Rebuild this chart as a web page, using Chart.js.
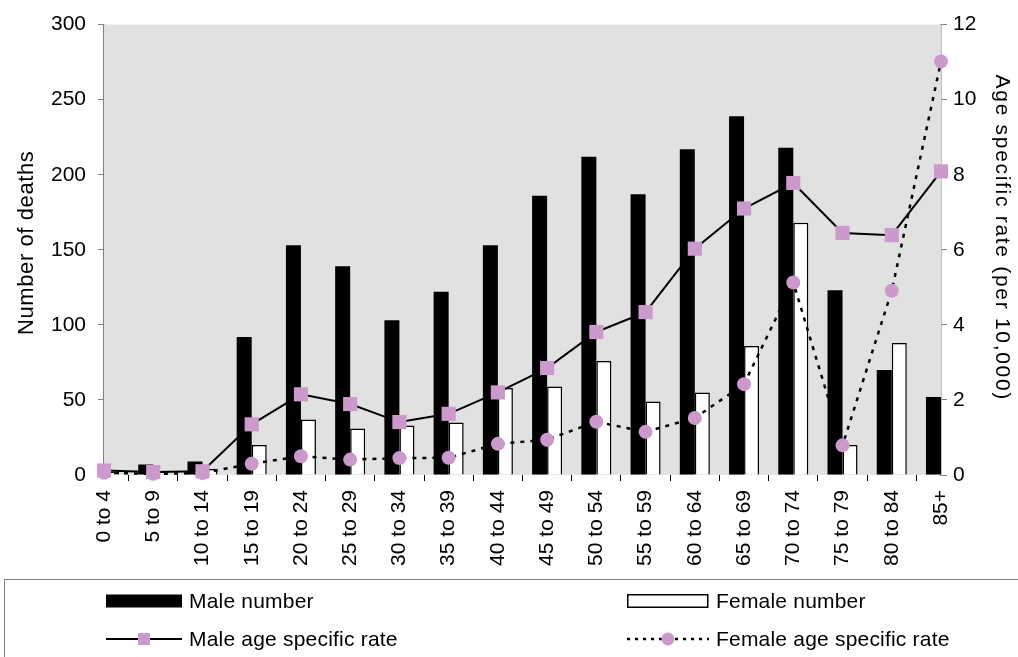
<!DOCTYPE html>
<html>
<head>
<meta charset="utf-8">
<script src="https://cdn.jsdelivr.net/npm/chart.js@4.4.1/dist/chart.umd.min.js"></script>
<style>
  html, body { margin: 0; padding: 0; background: #ffffff; overflow: hidden; }
  #wrap { position: relative; width: 1018px; height: 657px; }
  #chart { position: absolute; left: 0; top: 0; }
  #legend {
    position: absolute; left: 4px; top: 579px; width: 1100px; height: 200px;
    border: 1px solid #808080; box-sizing: border-box;
    font-family: "Liberation Sans", Arial, sans-serif;
    font-size: 21px; letter-spacing: 0.2px; color: #000;
  }
  .item { position: absolute; display: flex; align-items: center; height: 22px; white-space: nowrap; }
  .item svg { display: block; margin-right: 7px; }
</style>
</head>
<body>
<div id="wrap">
  <canvas id="chart" width="1018" height="657"></canvas>
  <div id="legend">
    <div class="item" style="left:101px; top:10px;">
      <svg width="76" height="16"><rect x="0" y="1.5" width="76" height="13" fill="#000"/></svg>
      <span>Male number</span>
    </div>
    <div class="item" style="left:622px; top:10px;">
      <svg width="82" height="16"><rect x="0.75" y="1.75" width="80" height="12.5" fill="#fff" stroke="#000" stroke-width="1.5"/></svg>
      <span>Female number</span>
    </div>
    <div class="item" style="left:101px; top:48px;">
      <svg width="76" height="16"><line x1="0" y1="8" x2="76" y2="8" stroke="#000" stroke-width="2"/><rect x="32" y="2" width="12" height="12" fill="#cc99cc"/></svg>
      <span>Male age specific rate</span>
    </div>
    <div class="item" style="left:622px; top:48px;">
      <svg width="82" height="16"><line x1="0" y1="8" x2="82" y2="8" stroke="#000" stroke-width="2.5" stroke-dasharray="3 5"/><circle cx="41" cy="8" r="6.5" fill="#cc99cc"/></svg>
      <span>Female age specific rate</span>
    </div>
  </div>
</div>
<script>
// Age groups
const categories = ['0 to 4', '5 to 9', '10 to 14', '15 to 19', '20 to 24', '25 to 29',
  '30 to 34', '35 to 39', '40 to 44', '45 to 49', '50 to 54', '55 to 59',
  '60 to 64', '65 to 69', '70 to 74', '75 to 79', '80 to 84', '85+'];

// Number of deaths
const maleNumber   = [4, 7, 9, 92, 153, 139, 103, 122, 153, 186, 212, 187, 217, 239, 218, 123, 70, 52];
const femaleNumber = [2, 2, 4, 20, 37, 31, 33, 35, 58, 59, 76, 49, 55, 86, 168, 20, 88, 0];

// Age specific rate (per 10,000)
const maleRate   = [0.12, 0.08, 0.1, 1.35, 2.15, 1.89, 1.41, 1.63, 2.2, 2.85, 3.81, 4.34, 6.03, 7.1, 7.78, 6.45, 6.39, 8.09];
const femaleRate = [0.06, 0.03, 0.05, 0.3, 0.5, 0.41, 0.45, 0.46, 0.83, 0.94, 1.42, 1.15, 1.52, 2.42, 5.13, 0.79, 4.91, 11.02];

// Axis ranges
const deathTicks = { min: 0, max: 300, step: 50 };
const rateTicks  = { min: 0, max: 12, step: 2 };

const leftTitle  = 'Number of deaths';
const rightTitle = 'Age specific rate (per 10,000)';

const MARKER = '#cc99cc';
const FAMILY = '"Liberation Sans", Arial, sans-serif';
const FONT = { family: FAMILY, size: 21 };

// Grey plot-area fill
const plotBackground = {
  id: 'plotBackground',
  beforeDatasetsDraw(chart) {
    const { ctx, chartArea: a } = chart;
    ctx.save();
    ctx.fillStyle = '#e1e1e1';
    ctx.fillRect(a.left, a.top, a.right - a.left, a.bottom - a.top);
    ctx.restore();
  }
};

// Rotated axis titles
const axisTitles = {
  id: 'axisTitles',
  afterDraw(chart) {
    const { ctx, chartArea: a } = chart;
    const cy = (a.top + a.bottom) / 2;
    ctx.save();
    ctx.fillStyle = '#000';
    ctx.textAlign = 'center';
    ctx.textBaseline = 'alphabetic';

    ctx.save();
    ctx.font = '22px ' + FAMILY;
    ctx.letterSpacing = '0.6px';
    ctx.translate(33, cy - 7);
    ctx.rotate(-Math.PI / 2);
    ctx.fillText(leftTitle, 0, 0);
    ctx.restore();

    ctx.save();
    ctx.font = '21px ' + FAMILY;
    ctx.letterSpacing = '1.7px';
    ctx.translate(996, cy - 12);
    ctx.rotate(Math.PI / 2);
    ctx.fillText(rightTitle, 0, 0);
    ctx.restore();

    ctx.restore();
  }
};

new Chart(document.getElementById('chart'), {
  data: {
    labels: categories,
    datasets: [
      {
        type: 'line', label: 'Male age specific rate', data: maleRate, yAxisID: 'y1',
        borderColor: '#000', borderWidth: 2, tension: 0,
        pointStyle: 'rect', pointRadius: 10, pointHoverRadius: 10,
        pointBackgroundColor: MARKER, pointBorderColor: MARKER, pointBorderWidth: 0,
        clip: false, order: 0
      },
      {
        type: 'line', label: 'Female age specific rate', data: femaleRate, yAxisID: 'y1',
        borderColor: '#000', borderWidth: 2.5, borderDash: [4, 6], tension: 0,
        pointStyle: 'circle', pointRadius: 7, pointHoverRadius: 7,
        pointBackgroundColor: MARKER, pointBorderColor: MARKER, pointBorderWidth: 0,
        clip: false, order: 0
      },
      {
        type: 'bar', label: 'Male number', data: maleNumber, yAxisID: 'y',
        backgroundColor: '#000', borderWidth: 0,
        barPercentage: 1, categoryPercentage: 0.61, clip: 0, order: 1
      },
      {
        type: 'bar', label: 'Female number', data: femaleNumber, yAxisID: 'y',
        backgroundColor: '#fff', borderColor: '#000', borderWidth: 1.5,
        barPercentage: 1, categoryPercentage: 0.61, clip: 0, order: 1
      }
    ]
  },
  options: {
    responsive: false,
    animation: false,
    events: [],
    layout: { padding: { top: 23, left: 0, right: 0, bottom: 0 } },
    plugins: { legend: { display: false }, tooltip: { enabled: false } },
    scales: {
      x: {
        type: 'category', offset: false,
        grid: { display: true, drawOnChartArea: false, drawTicks: true, tickLength: 6, color: '#000', lineWidth: 1 },
        border: { display: false },
        ticks: { autoSkip: false, minRotation: 90, maxRotation: 90, padding: 9, color: '#000', font: FONT },
        afterFit(s) { s.height = 657 - 475; }
      },
      y: {
        position: 'left', min: deathTicks.min, max: deathTicks.max,
        grid: { display: true, drawOnChartArea: false, drawTicks: true, tickLength: 6, color: '#808080' },
        border: { display: true, color: '#808080', width: 1.5 },
        ticks: { stepSize: deathTicks.step, padding: 12, color: '#000', font: FONT },
        afterFit(s) { s.width = 104; }
      },
      y1: {
        position: 'right', min: rateTicks.min, max: rateTicks.max,
        grid: { display: true, drawOnChartArea: false, drawTicks: true, tickLength: 6, color: '#808080' },
        border: { display: true, color: '#808080', width: 1.5 },
        ticks: { stepSize: rateTicks.step, padding: 6, color: '#000', font: FONT },
        afterFit(s) { s.width = 77; }
      }
    }
  },
  plugins: [plotBackground, axisTitles]
});
</script>
</body>
</html>
